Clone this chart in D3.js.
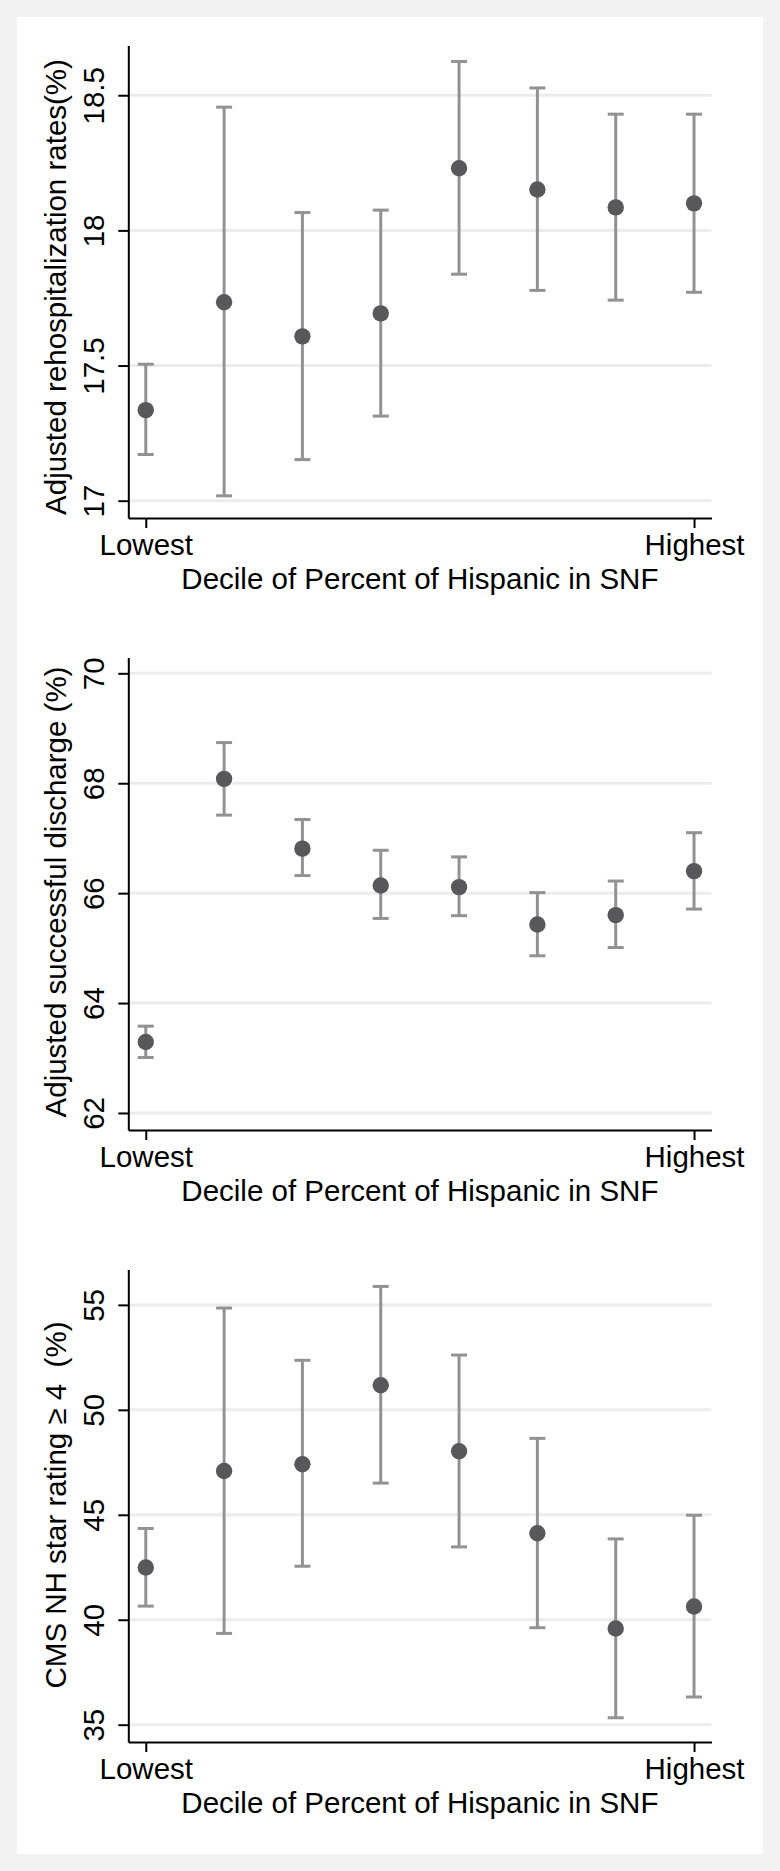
<!DOCTYPE html>
<html>
<head>
<meta charset="utf-8">
<script src="https://cdn.jsdelivr.net/npm/d3@7"></script>
<style>
  body { margin: 0; background: #f2f2f2; }
  svg { display: block; }
  text { font-family: "Liberation Sans", Arial, Helvetica, sans-serif; fill: #000; }
</style>
</head>
<body>
<svg id="chart" width="780" height="1871"></svg>
<script>
// deciles shown on the x axis (only first and last are labelled)
var deciles = [1, 2, 3, 4, 5, 6, 7, 8];
var xTickValues = [1, 8];
var xTickLabels = ["Lowest", "Highest"];
var xTitle = "Decile of Percent of Hispanic in SNF";

// panel 1: readmission
var rehospMean = [17.335, 17.734, 17.608, 17.693, 18.230, 18.151, 18.085, 18.100];
var rehospLow  = [17.171, 17.018, 17.152, 17.313, 17.838, 17.778, 17.742, 17.771];
var rehospHigh = [17.505, 18.456, 18.066, 18.075, 18.625, 18.527, 18.430, 18.430];
var rehospTicks = [17, 17.5, 18, 18.5];

// panel 2: successful discharge
var dischMean = [63.29, 68.08, 66.81, 66.14, 66.11, 65.43, 65.60, 66.40];
var dischLow  = [63.01, 67.42, 66.32, 65.54, 65.59, 64.86, 65.01, 65.71];
var dischHigh = [63.58, 68.74, 67.34, 66.78, 66.66, 66.01, 66.22, 67.10];
var dischTicks = [62, 64, 66, 68, 70];

// panel 3: star rating
var starMean = [42.49, 47.09, 47.41, 51.17, 48.03, 44.12, 39.58, 40.63];
var starLow  = [40.65, 39.35, 42.55, 46.51, 43.47, 39.62, 35.33, 36.32];
var starHigh = [44.35, 54.85, 52.36, 55.88, 52.61, 48.64, 43.85, 44.98];
var starTicks = [35, 40, 45, 50, 55];

var svg = d3.select("#chart");

svg.append("rect")
  .attr("x", 0).attr("y", 0)
  .attr("width", 780).attr("height", 1871)
  .attr("fill", "#f2f2f2");
svg.append("rect")
  .attr("x", 17).attr("y", 17)
  .attr("width", 746).attr("height", 1837)
  .attr("fill", "#ffffff");

var plotLeft = 128.3,
  plotRight = 711.5,
  axisTop = 45.5,
  axisBottom = 518,
  panelStep = 612,
  fontSize = "29.5px";

var drawPanel = function (idx, title, titleY, mean, low, high, ticks, domain) {
  var g = svg.append("g").attr("transform", "translate(0," + (idx * panelStep) + ")");

  var x = d3.scaleLinear().domain([0.777, 8.223]).range([plotLeft, plotRight]);
  var y = d3.scaleLinear().domain(domain).range([axisBottom, axisTop]);

  // gridlines
  g.selectAll("line.grid")
    .data(ticks)
    .enter().append("line")
      .attr("class", "grid")
      .attr("x1", plotLeft)
      .attr("x2", plotRight)
      .attr("y1", function (d) { return y(d); })
      .attr("y2", function (d) { return y(d); })
      .attr("stroke", "#ececec")
      .attr("stroke-width", 3);

  // y axis
  var yAxis = g.append("g")
    .attr("transform", "translate(" + plotLeft + ",0)")
    .call(d3.axisLeft(y).tickValues(ticks).tickSize(10).tickSizeOuter(0).tickFormat(d3.format("")));
  yAxis.select(".domain").attr("stroke", "#000").attr("stroke-width", 2);
  yAxis.selectAll(".tick line").attr("stroke", "#000").attr("stroke-width", 2);
  yAxis.selectAll(".tick text")
    .attr("transform", "rotate(-90)")
    .attr("x", 0)
    .attr("y", -24.5)
    .attr("dy", 0)
    .attr("text-anchor", "middle")
    .style("font-size", fontSize)
    .attr("fill", "#000");

  // x axis
  var xAxis = g.append("g")
    .attr("transform", "translate(0," + axisBottom + ")")
    .call(d3.axisBottom(x).tickValues(xTickValues).tickSize(10).tickSizeOuter(0)
      .tickFormat(function (d, i) { return xTickLabels[i]; }));
  xAxis.select(".domain").attr("stroke", "#000").attr("stroke-width", 2);
  xAxis.selectAll(".tick line").attr("stroke", "#000").attr("stroke-width", 2);
  xAxis.selectAll(".tick text")
    .attr("y", 37)
    .attr("dy", 0)
    .style("font-size", fontSize)
    .attr("fill", "#000");

  // axis titles
  g.append("text")
    .attr("transform", "translate(66," + titleY + ") rotate(-90)")
    .attr("text-anchor", "middle")
    .style("font-size", fontSize)
    .text(title);

  g.append("text")
    .attr("x", (plotLeft + plotRight) / 2)
    .attr("y", 589)
    .attr("text-anchor", "middle")
    .style("font-size", fontSize)
    .text(xTitle);

  // error bars
  var bars = g.selectAll("g.ci")
    .data(deciles)
    .enter().append("g")
      .attr("class", "ci");

  bars.append("line")
    .attr("x1", function (d) { return x(d); })
    .attr("x2", function (d) { return x(d); })
    .attr("y1", function (d, i) { return y(low[i]); })
    .attr("y2", function (d, i) { return y(high[i]); })
    .attr("stroke", "#929292")
    .attr("stroke-width", 3);

  [low, high].forEach(function (vals) {
    bars.append("line")
      .attr("x1", function (d) { return x(d) - 8; })
      .attr("x2", function (d) { return x(d) + 8; })
      .attr("y1", function (d, i) { return y(vals[i]); })
      .attr("y2", function (d, i) { return y(vals[i]); })
      .attr("stroke", "#929292")
      .attr("stroke-width", 3);
  });

  // point estimates
  g.selectAll("circle.pt")
    .data(deciles)
    .enter().append("circle")
      .attr("class", "pt")
      .attr("cx", function (d) { return x(d); })
      .attr("cy", function (d, i) { return y(mean[i]); })
      .attr("r", 8.2)
      .attr("fill", "#58585a");
};

drawPanel(0, "Adjusted rehospitalization rates(%)", 287, rehospMean, rehospLow, rehospHigh, rehospTicks, [16.936, 18.684]);
drawPanel(1, "Adjusted successful discharge (%)", 280, dischMean, dischLow, dischHigh, dischTicks, [61.69, 70.288]);
drawPanel(2, "CMS NH star rating \u2265 4\u00a0 (%)", 281, starMean, starLow, starHigh, starTicks, [34.176, 56.686]);
</script>
</body>
</html>
